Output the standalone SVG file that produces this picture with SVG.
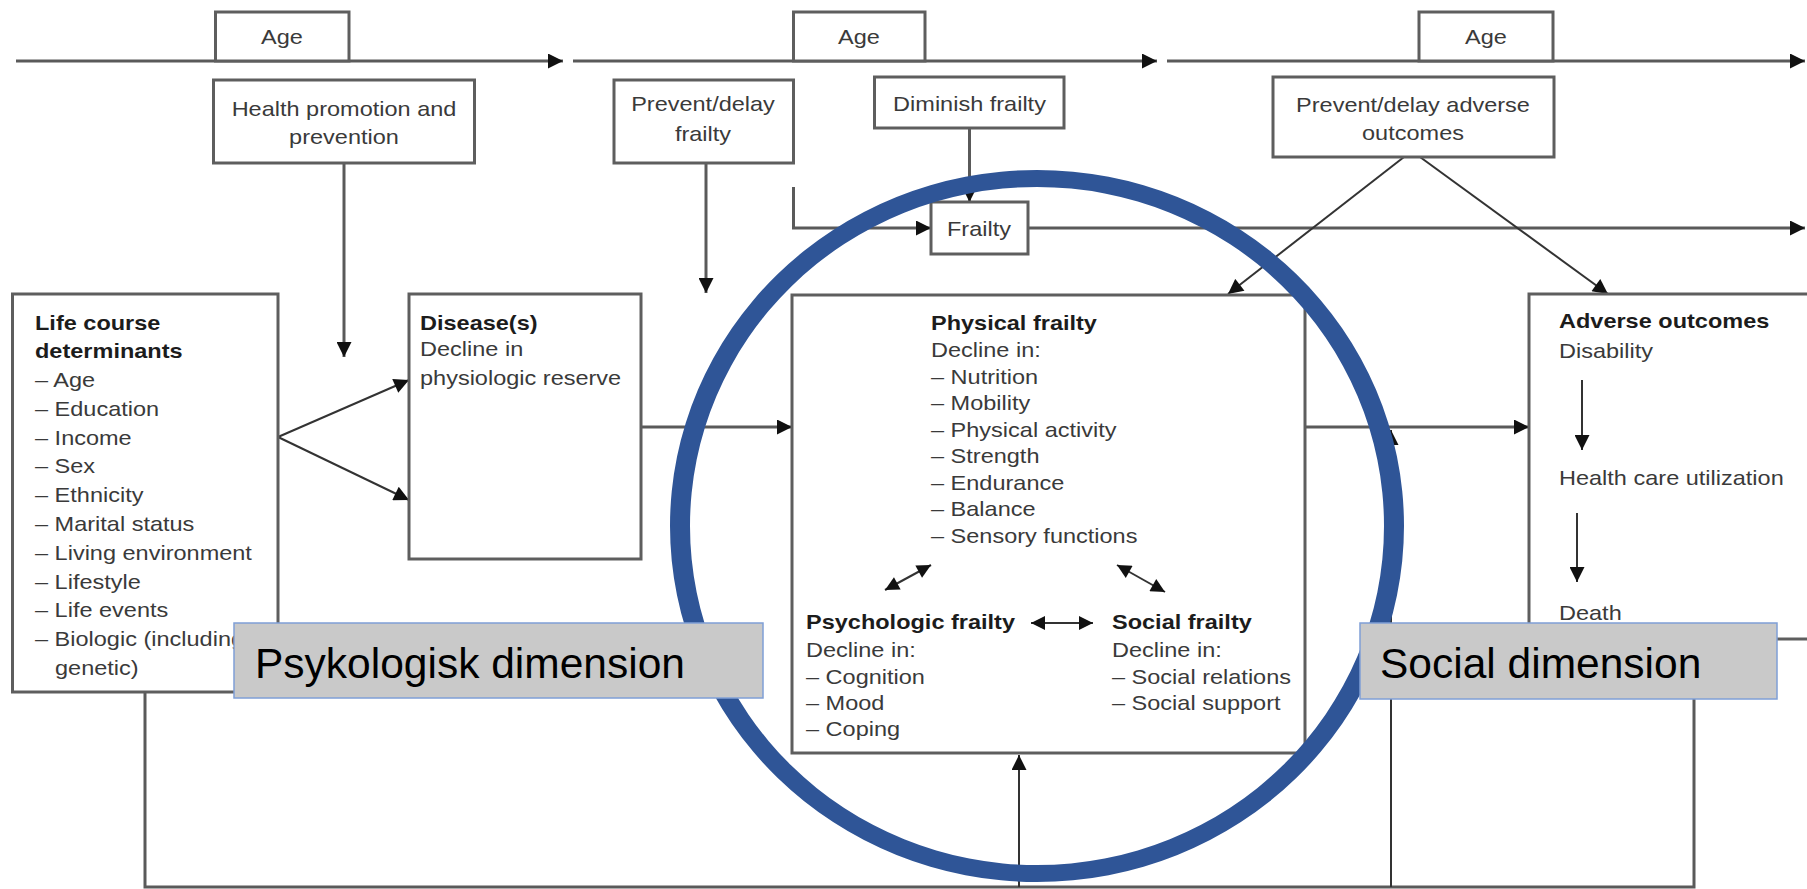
<svg xmlns="http://www.w3.org/2000/svg" width="1807" height="889" viewBox="0 0 1807 889">
  <style>
    .box { fill: #ffffff; stroke: #5e5e5e; stroke-width: 3; }
    .ln { fill: none; stroke: #5a5a5a; stroke-width: 3; }
    .thin { fill: none; stroke: #333333; stroke-width: 2; }
    .t { font-family: "Liberation Sans", Arial, sans-serif; font-size: 21px; fill: #3a3a3a; }
    .b { font-weight: bold; fill: #1c1c1c; }
    .mid { text-anchor: middle; }
    .dimbox { fill: #c9c9c9; stroke: #7f9fd6; stroke-width: 1.5; }
    .dim { font-family: "Liberation Sans", Arial, sans-serif; font-size: 42.5px; fill: #000000; }
  </style>
  <defs>
    <marker id="ah" viewBox="0 0 10 10" refX="10" refY="5" markerWidth="17" markerHeight="15" markerUnits="userSpaceOnUse" orient="auto-start-reverse">
      <path d="M0,0 L10,5 L0,10 z" fill="#111111"/>
    </marker>
    <marker id="ahs" viewBox="0 0 10 10" refX="10" refY="5" markerWidth="15" markerHeight="14" markerUnits="userSpaceOnUse" orient="auto-start-reverse">
      <path d="M0,0 L10,5 L0,10 z" fill="#111111"/>
    </marker>
  </defs>

  <rect width="1807" height="889" fill="#ffffff"/>

  <!-- connectors -->
  <g id="connectors">
    <!-- age timeline -->
    <line class="ln" x1="16" y1="61" x2="563" y2="61" marker-end="url(#ah)"/>
    <line class="ln" x1="573" y1="61" x2="1157" y2="61" marker-end="url(#ah)"/>
    <line class="ln" x1="1167" y1="61" x2="1805" y2="61" marker-end="url(#ah)"/>
    <!-- interventions -->
    <line class="ln" x1="344" y1="163" x2="344" y2="357" marker-end="url(#ah)"/>
    <line class="ln" x1="706" y1="163" x2="706" y2="293" marker-end="url(#ah)"/>
    <line class="ln" x1="969.5" y1="128" x2="969.5" y2="202" marker-end="url(#ah)"/>
    <path class="ln" d="M793.5,187 V228 H931" marker-end="url(#ah)"/>
    <line class="ln" x1="1028" y1="228" x2="1805" y2="228" marker-end="url(#ah)"/>
    <line class="thin" x1="1404" y1="157" x2="1228" y2="294" marker-end="url(#ah)"/>
    <line class="thin" x1="1420" y1="157" x2="1608" y2="294" marker-end="url(#ah)"/>
    <!-- main flow -->
    <line class="thin" x1="278" y1="437" x2="409" y2="380" marker-end="url(#ah)"/>
    <line class="thin" x1="278" y1="437" x2="409" y2="500" marker-end="url(#ah)"/>
    <line class="ln" x1="641" y1="427" x2="792" y2="427" marker-end="url(#ah)"/>
    <line class="ln" x1="1305" y1="427" x2="1529" y2="427" marker-end="url(#ah)"/>
    <!-- feedback loop -->
    <path class="ln" d="M1694,639 V887 H145 V692"/>
    <line class="thin" x1="1019" y1="887" x2="1019" y2="755" marker-end="url(#ah)"/>
    <line class="thin" x1="1391" y1="887" x2="1391" y2="430" marker-end="url(#ah)"/>
  </g>

  <!-- age labels on the timeline -->
  <g id="age1">
    <rect class="box" x="215.5" y="12" width="133.5" height="49"/>
    <text class="t mid" transform="translate(282,44) scale(1.12,1)">Age</text>
  </g>
  <g id="age2">
    <rect class="box" x="793.5" y="12" width="131.5" height="49"/>
    <text class="t mid" transform="translate(859,44) scale(1.12,1)">Age</text>
  </g>
  <g id="age3">
    <rect class="box" x="1419" y="12" width="134" height="49"/>
    <text class="t mid" transform="translate(1486,44) scale(1.12,1)">Age</text>
  </g>

  <!-- intervention boxes -->
  <g id="health-promotion">
    <rect class="box" x="213.5" y="80" width="261" height="83"/>
    <text class="t mid" transform="translate(344,115.5) scale(1.12,1)">Health promotion and<tspan x="0" dy="29">prevention</tspan></text>
  </g>
  <g id="prevent-frailty">
    <rect class="box" x="614" y="80" width="179.5" height="83"/>
    <text class="t mid" transform="translate(703,111) scale(1.12,1)">Prevent/delay<tspan x="0" dy="30">frailty</tspan></text>
  </g>
  <g id="diminish-frailty">
    <rect class="box" x="874.5" y="77" width="189.5" height="51"/>
    <text class="t mid" transform="translate(969.5,110.5) scale(1.12,1)">Diminish frailty</text>
  </g>
  <g id="prevent-adverse">
    <rect class="box" x="1273" y="77" width="281" height="80"/>
    <text class="t mid" transform="translate(1413,111.5) scale(1.12,1)">Prevent/delay adverse<tspan x="0" dy="29">outcomes</tspan></text>
  </g>
  <g id="frailty-label">
    <rect class="box" x="931" y="202" width="97" height="52"/>
    <text class="t mid" transform="translate(979,235.5) scale(1.12,1)">Frailty</text>
  </g>

  <!-- main boxes -->
  <g id="life-course">
    <rect class="box" x="12.5" y="294" width="265.5" height="398"/>
    <text class="t" transform="translate(35,329.5) scale(1.12,1)"><tspan class="b">Life course</tspan><tspan class="b" x="0" dy="28.8">determinants</tspan><tspan x="0" dy="28.8">– Age</tspan><tspan x="0" dy="28.8">– Education</tspan><tspan x="0" dy="28.8">– Income</tspan><tspan x="0" dy="28.8">– Sex</tspan><tspan x="0" dy="28.8">– Ethnicity</tspan><tspan x="0" dy="28.8">– Marital status</tspan><tspan x="0" dy="28.8">– Living environment</tspan><tspan x="0" dy="28.8">– Lifestyle</tspan><tspan x="0" dy="28.8">– Life events</tspan><tspan x="0" dy="28.8">– Biologic (including</tspan><tspan x="17.9" dy="28.8">genetic)</tspan></text>
  </g>
  <g id="disease">
    <rect class="box" x="409" y="294" width="232" height="265"/>
    <text class="t" transform="translate(420,329.5) scale(1.12,1)"><tspan class="b">Disease(s)</tspan><tspan x="0" dy="27">Decline in</tspan><tspan x="0" dy="29">physiologic reserve</tspan></text>
  </g>
  <g id="frailty">
    <rect class="box" x="792" y="295" width="513" height="458"/>
    <text class="t" transform="translate(931,329.5) scale(1.12,1)"><tspan class="b">Physical frailty</tspan><tspan x="0" dy="28">Decline in:</tspan><tspan x="0" dy="26.5">– Nutrition</tspan><tspan x="0" dy="26.5">– Mobility</tspan><tspan x="0" dy="26.5">– Physical activity</tspan><tspan x="0" dy="26.5">– Strength</tspan><tspan x="0" dy="26.5">– Endurance</tspan><tspan x="0" dy="26.5">– Balance</tspan><tspan x="0" dy="26.5">– Sensory functions</tspan></text>
    <text class="t" transform="translate(806,628.5) scale(1.12,1)"><tspan class="b">Psychologic frailty</tspan><tspan x="0" dy="29">Decline in:</tspan><tspan x="0" dy="27">– Cognition</tspan><tspan x="0" dy="26">– Mood</tspan><tspan x="0" dy="26">– Coping</tspan></text>
    <text class="t" transform="translate(1112,628.5) scale(1.12,1)"><tspan class="b">Social frailty</tspan><tspan x="0" dy="29">Decline in:</tspan><tspan x="0" dy="27">– Social relations</tspan><tspan x="0" dy="26">– Social support</tspan></text>
    <!-- links between the three frailty domains -->
    <line class="thin" x1="885" y1="590" x2="931" y2="565" marker-start="url(#ahs)" marker-end="url(#ahs)"/>
    <line class="thin" x1="1117" y1="565" x2="1165" y2="592" marker-start="url(#ahs)" marker-end="url(#ahs)"/>
    <line class="thin" x1="1031" y1="623" x2="1093" y2="623" marker-start="url(#ahs)" marker-end="url(#ahs)"/>
  </g>
  <g id="adverse-outcomes">
    <rect class="box" x="1529" y="294" width="310" height="345"/>
    <text class="t" transform="translate(1559,327.5) scale(1.12,1)"><tspan class="b">Adverse outcomes</tspan><tspan x="0" dy="31">Disability</tspan><tspan x="0" dy="127">Health care utilization</tspan><tspan x="0" dy="135">Death</tspan></text>
    <line class="thin" x1="1582" y1="380" x2="1582" y2="450" marker-end="url(#ah)"/>
    <line class="thin" x1="1577" y1="513" x2="1577" y2="582" marker-end="url(#ah)"/>
  </g>

  <!-- highlight ring around the frailty domains -->
  <g id="highlight-ring">
    <path fill="#2f5597" fill-rule="evenodd" d="M670,526 a367,356 0 1,0 734,0 a367,356 0 1,0 -734,0 Z M690,526 a347,339 0 1,0 694,0 a347,339 0 1,0 -694,0 Z"/>
  </g>

  <!-- dimension labels -->
  <g id="psych-dimension">
    <rect class="dimbox" x="234" y="623" width="529" height="75"/>
    <text class="dim" x="255" y="678">Psykologisk dimension</text>
  </g>
  <g id="social-dimension">
    <rect class="dimbox" x="1360" y="623" width="417" height="76"/>
    <text class="dim" x="1380" y="678">Social dimension</text>
  </g>
</svg>
